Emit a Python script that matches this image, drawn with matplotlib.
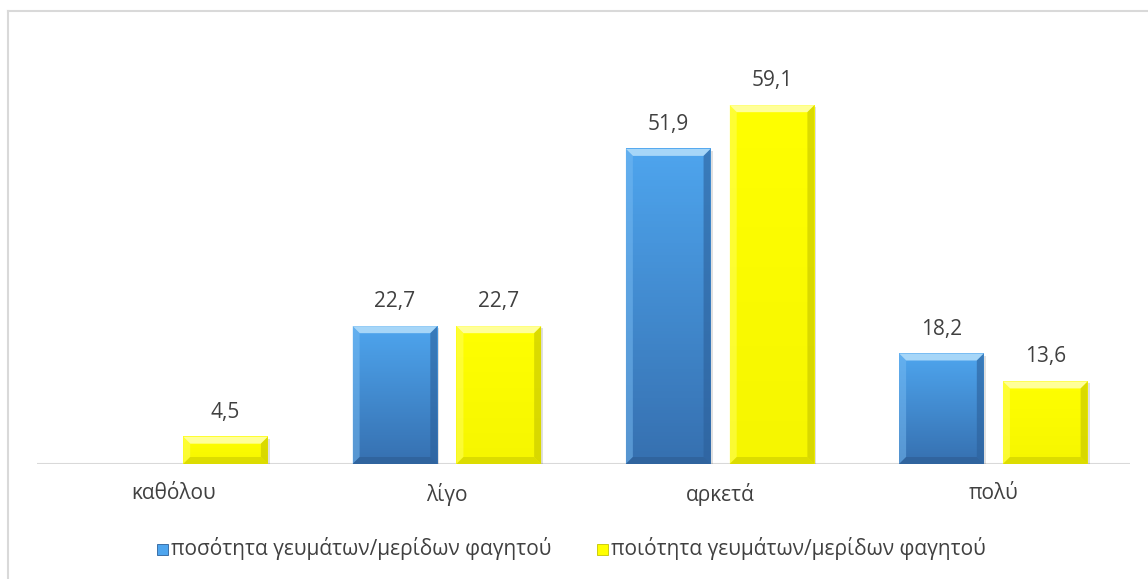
import numpy as np
import matplotlib
matplotlib.use("Agg")
from matplotlib import pyplot as plt
from matplotlib.patches import Polygon, Rectangle
from matplotlib.colors import LinearSegmentedColormap

plt.rcParams['font.family'] = ['Open Sans', 'DejaVu Sans']

categories = ['καθόλου', 'λίγο', 'αρκετά', 'πολύ']
quantity = [np.nan, 22.7, 51.9, 18.2]
quality = [4.5, 22.7, 59.1, 13.6]
series_names = ['ποσότητα γευμάτων/μερίδων φαγητού', 'ποιότητα γευμάτων/μερίδων φαγητού']

fig = plt.figure(figsize=(11.48, 5.79), dpi=100)
ax = fig.add_axes([37 / 1148, 115 / 579, (1130 - 37) / 1148, 425 / 579])
ax.set_xlim(-0.5, 3.5)
ax.set_ylim(0, 70)

# chart border (only top and left visible in the crop)
fig.add_artist(plt.Line2D([8 / 1148, 8 / 1148], [0, 1 - 11 / 579], color='#d9d9d9', lw=1.5))
fig.add_artist(plt.Line2D([8 / 1148, 1], [1 - 11 / 579, 1 - 11 / 579], color='#d9d9d9', lw=1.5))

width = 0.31
offset = 0.19
px_x = 1 / 273.25      # data units per pixel, x
px_y = 70 / 425        # data units per pixel, y
bev = 7

styles = [
    dict(top='#4ea5ee', bottom='#3670b0', light='#a6d6f8', side_l='#78bbf2', side_r='#2c609a', low='#2d5c92'),
    dict(top='#ffff00', bottom='#f6f600', light='#ffff99', side_l='#ffff66', side_r='#c4c400', low='#cccc00'),
]


def bevel_bar(x0, h, st):
    x1 = x0 + width
    if np.isnan(h):
        return
    cmap = LinearSegmentedColormap.from_list('g', [st['bottom'], st['top']])
    grad = np.linspace(0, 1, 100).reshape(-1, 1)
    ax.imshow(grad, extent=[x0, x1, 0, h], origin='lower', cmap=cmap, aspect='auto', zorder=2)
    # soft shadow
    ax.add_patch(Rectangle((x0 + 2 * px_x, -2 * px_y), width, h, color='#000000', alpha=0.12, zorder=1.5, lw=0))
    bx, by = bev * px_x, min(bev * px_y, h / 2)
    ax.add_patch(Polygon([(x0, h), (x1, h), (x1 - bx, h - by), (x0 + bx, h - by)], color=st['light'], lw=0, zorder=3))
    ax.add_patch(Polygon([(x0, 0), (x0, h), (x0 + bx, h - by), (x0 + bx, by)], color=st['side_l'], lw=0, zorder=3, alpha=0.5))
    ax.add_patch(Polygon([(x1, 0), (x1, h), (x1 - bx, h - by), (x1 - bx, by)], color=st['side_r'], lw=0, zorder=3, alpha=0.6))
    ax.add_patch(Polygon([(x0, 0), (x1, 0), (x1 - bx, by), (x0 + bx, by)], color=st['low'], lw=0, zorder=3, alpha=0.6))


x = np.arange(len(categories))
for s, vals in enumerate([quantity, quality]):
    for i, v in enumerate(vals):
        x0 = x[i] + (offset if s else -offset) - width / 2
        bevel_bar(x0, v, styles[s])
        if not np.isnan(v):
            ax.text(x0 + width / 2, v + 2.3, f'{v:.1f}'.replace('.', ','), ha='center', va='bottom',
                    fontsize=15, color='#404040')

ax.axhline(0, color='#d9d9d9', lw=1.5, zorder=1)
for sp in ax.spines.values():
    sp.set_visible(False)
ax.set_yticks([])
ax.set_xticks(x)
ax.set_xticklabels(categories, fontsize=15, color='#404040')
ax.tick_params(axis='x', length=0, pad=14)

# legend
ly = 1 - 549 / 579
for lx, name, st in [(157, series_names[0], styles[0]), (597, series_names[1], styles[1])]:
    fig.add_artist(Rectangle((lx / 1148, ly - 6 / 579), 11 / 1148, 11 / 579, facecolor=st['top'],
                             edgecolor=st['side_r'], lw=0.6))
    fig.text((lx + 14) / 1148, ly, name, fontsize=15, color='#404040', va='center', ha='left')

fig.savefig('out.png', dpi=100)
